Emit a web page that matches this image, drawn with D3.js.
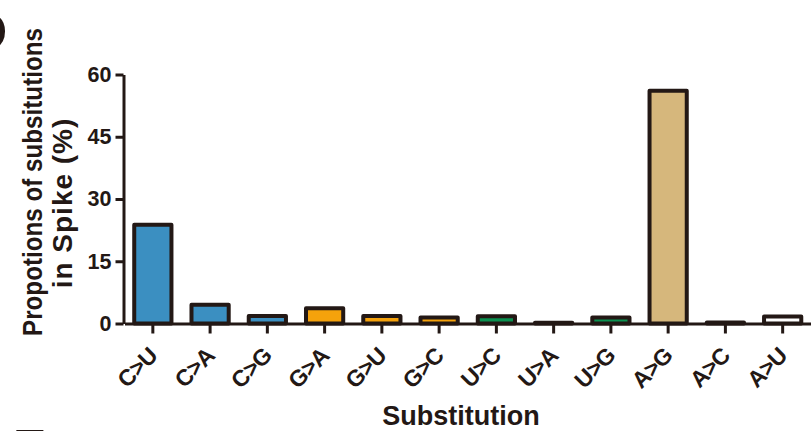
<!DOCTYPE html>
<html>
<head>
<meta charset="utf-8">
<script src="https://cdn.jsdelivr.net/npm/d3@7"></script>
<style>
  html, body { margin: 0; padding: 0; background: #fff; }
  svg { display: block; }
  text { font-family: "Liberation Sans", Arial, sans-serif; font-weight: bold; fill: #231815; }
</style>
</head>
<body>
<svg id="chart" width="811" height="431"></svg>
<script>
// Substitution types along the x axis
const categories = ["C>U", "C>A", "C>G", "G>A", "G>U", "G>C", "U>C", "U>A", "U>G", "A>G", "A>C", "A>U"];
// Share of each substitution type in Spike (%)
const values = [23.8, 4.5, 1.8, 3.7, 1.8, 1.45, 1.75, 0.2, 1.45, 56.1, 0.25, 1.7];
// Fill group of each bar (by original base)
const groups = ["C", "C", "C", "G", "G", "G", "U", "U", "U", "AG", "A", "A"];
const groupColors = { C: "#3b8fc1", G: "#f5a20c", U: "#0b9150", AG: "#d6b77c", A: "#ffffff" };
// Y axis ticks
const yTicks = [0, 15, 30, 45, 60];

const ink = "#231815";
const svg = d3.select("#chart");

const x = d3.scaleBand()
  .domain(categories)
  .range([124.5, 811])
  .paddingInner(0.35)
  .paddingOuter(0.17);

const y = d3.scaleLinear().domain([0, 60]).range([323.5, 74.5]);

// Bars
svg.append("g")
  .selectAll("rect")
  .data(categories)
  .join("rect")
  .attr("x", (d) => x(d))
  .attr("y", (d, i) => y(values[i]))
  .attr("width", x.bandwidth())
  .attr("height", (d, i) => y(0) - y(values[i]))
  .attr("fill", (d, i) => groupColors[groups[i]])
  .attr("stroke", ink)
  .attr("stroke-width", 4)
  .attr("stroke-linejoin", "round");

// Y axis
const yAxis = svg.append("g")
  .attr("transform", "translate(123.5,0)")
  .call(d3.axisLeft(y).tickValues(yTicks).tickSize(8).tickPadding(4).tickSizeOuter(0));
yAxis.select(".domain").attr("stroke", ink).attr("stroke-width", 3);
yAxis.selectAll(".tick line").attr("stroke", ink).attr("stroke-width", 3);
yAxis.selectAll(".tick text")
  .attr("font-size", 21.5)
  .attr("font-family", "Liberation Sans, Arial, sans-serif")
  .attr("font-weight", "bold")
  .attr("fill", ink);

// X axis
const xAxis = svg.append("g")
  .attr("transform", "translate(0,323.5)")
  .call(d3.axisBottom(x).tickSize(10).tickSizeOuter(0).tickFormat(() => ""));
xAxis.select(".domain").attr("stroke", ink).attr("stroke-width", 3);
xAxis.selectAll(".tick line").attr("stroke", ink).attr("stroke-width", 3);

// Rotated category labels
svg.append("g")
  .selectAll("text")
  .data(categories)
  .join("text")
  .attr("transform", (d) => `translate(${x(d) + x.bandwidth() / 2 + 6},${357}) rotate(-45)`)
  .attr("text-anchor", "end")
  .attr("font-size", 23)
  .attr("letter-spacing", -0.5)
  .text((d) => d);

// Axis titles
svg.append("text")
  .attr("x", 461)
  .attr("y", 425)
  .attr("text-anchor", "middle")
  .attr("font-size", 27)
  .text("Substitution");

svg.append("text")
  .attr("transform", "translate(42,182) rotate(-90)")
  .attr("text-anchor", "middle")
  .attr("font-size", 27)
  .attr("textLength", 308)
  .attr("lengthAdjust", "spacingAndGlyphs")
  .text("Propotions of subsitutions");

svg.append("text")
  .attr("transform", "translate(72,203) rotate(-90)")
  .attr("text-anchor", "middle")
  .attr("font-size", 28)
  .attr("letter-spacing", 1)
  .text("in Spike (%)");

// Neighbouring panel letters
svg.append("text").attr("x", -31).attr("y", 50).attr("font-size", 53).text("D");
svg.append("text").attr("x", 13).attr("y", 465).attr("font-size", 50).text("E");
</script>
</body>
</html>
